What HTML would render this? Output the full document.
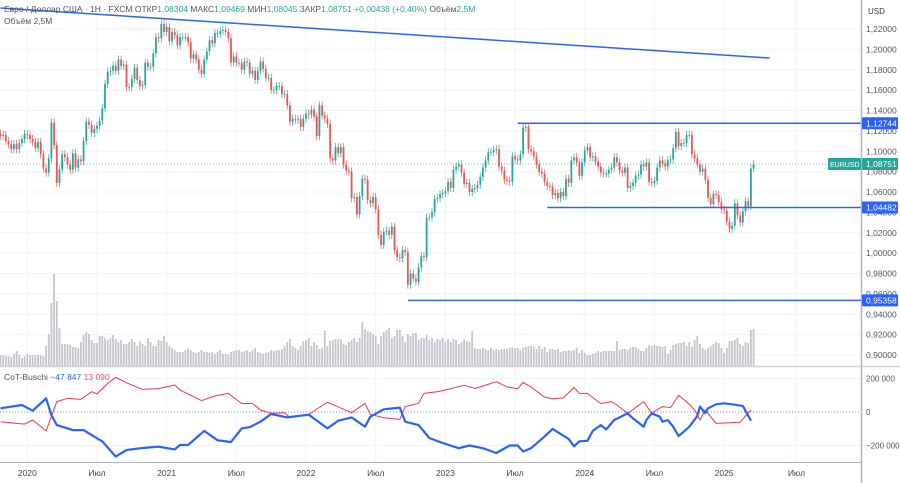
<!DOCTYPE html>
<html><head><meta charset="utf-8"><style>
html,body{margin:0;padding:0;background:#fff;}
svg{display:block;font-family:"Liberation Sans",sans-serif;}
</style></head><body>
<svg id="chart" width="900" height="483" viewBox="0 0 900 483">
<rect x="0" y="0" width="900" height="483" fill="#fff"/>
<g id="grid"></g>
<g id="vol"></g>
<g id="candles"></g>
<g id="draw"></g>
<g id="cot"></g>
<g id="axis"></g>
<text x="4" y="12" font-size="8.5" fill="#555">Евро / Доллар США · 1Н · FXCM  ОТКР<tspan fill="#26a69a">1,08304</tspan>  МАКС<tspan fill="#26a69a">1,09469</tspan>  МИН<tspan fill="#26a69a">1,08045</tspan>  ЗАКР<tspan fill="#26a69a">1,08751</tspan>  <tspan fill="#26a69a">+0,00438 (+0,40%)</tspan>  Объём<tspan fill="#26a69a">2,5M</tspan></text>
<text x="4" y="24" font-size="8.5" fill="#555">Объём  2,5M</text>
<text x="4" y="380" font-size="8.5" fill="#555">CoT-Buschi  <tspan fill="#2962ff">−47 847</tspan>  <tspan fill="#ef5350">13 090</tspan></text>
</svg>
<script>
const closes=[1.115,1.116,1.110,1.107,1.102,1.107,1.102,1.108,1.112,1.117,
1.116,1.112,1.109,1.103,1.109,1.097,1.083,1.079,1.093,1.128,1.106,1.069,1.082,
1.097,1.094,1.087,1.082,1.098,1.084,1.092,1.090,1.110,1.129,1.126,1.118,1.122,
1.125,1.130,1.142,1.166,1.178,1.179,1.184,1.179,1.190,1.184,1.185,1.163,1.163,
1.171,1.182,1.170,1.164,1.165,1.187,1.183,1.183,1.196,1.212,1.211,1.225,1.217,
1.222,1.208,1.217,1.214,1.204,1.212,1.212,1.212,1.207,1.191,1.195,1.190,1.180,
1.176,1.190,1.198,1.209,1.206,1.216,1.215,1.218,1.219,1.217,1.211,1.187,1.193,
1.187,1.187,1.180,1.188,1.187,1.176,1.179,1.170,1.179,1.188,1.181,1.172,1.172,
1.160,1.160,1.164,1.164,1.156,1.156,1.145,1.129,1.132,1.131,1.132,1.124,1.132,1.137,
1.136,1.141,1.134,1.115,1.145,1.135,1.132,1.127,1.093,1.091,1.104,1.098,
1.104,1.087,1.081,1.080,1.054,1.055,1.038,1.056,1.073,1.072,1.052,1.049,1.055,
1.043,1.018,1.008,1.021,1.022,1.018,1.026,1.003,0.996,0.995,1.003,1.001,0.969,0.980,
0.975,0.972,0.986,0.997,0.996,1.035,1.035,1.040,1.053,1.054,1.058,1.059,1.061,1.070,
1.064,1.082,1.085,1.087,1.079,1.068,1.069,1.060,1.063,1.064,1.067,1.075,1.084,
1.091,1.099,1.099,1.101,1.102,1.085,1.081,1.072,1.071,1.070,1.095,1.092,1.091,
1.097,1.123,1.124,1.102,1.100,1.095,1.087,1.080,1.078,1.070,1.066,1.065,1.057,
1.059,1.054,1.060,1.056,1.073,1.069,1.091,1.094,1.089,1.076,1.089,1.101,1.104,
1.094,1.095,1.090,1.085,1.079,1.078,1.078,1.082,1.084,1.094,1.089,1.081,1.079,
1.084,1.064,1.066,1.069,1.076,1.077,1.087,1.085,1.089,1.070,1.069,1.071,
1.084,1.091,1.088,1.085,1.091,1.092,1.103,1.119,1.105,1.108,1.108,1.116,1.116,
1.097,1.093,1.087,1.080,1.083,1.072,1.054,1.048,1.058,1.057,1.050,1.043,1.042,
1.031,1.024,1.027,1.049,1.037,1.030,1.041,1.051,1.046,1.083,1.0875];
const volumes=[11,11,10,10,9,12,15,11,8,10,12,11,11,11,11,11,10,20,32,63,92,65,38,22,
22,22,21,19,19,18,24,31,34,32,26,23,23,30,30,28,26,28,31,27,24,26,
22,22,24,27,24,20,25,22,20,28,24,20,20,26,25,30,24,20,18,16,14,14,14,16,18,16,14,13,14,16,
14,14,13,14,12,14,16,12,12,12,14,15,16,16,14,15,16,14,16,18,14,13,12,13,14,16,15,16,16,17,
20,24,27,20,18,16,20,25,26,28,20,24,21,17,18,35,20,25,26,27,27,27,22,21,24,
26,28,24,28,44,37,35,34,32,30,22,30,34,36,38,28,30,36,36,30,24,32,30,33,33,26,28,28,31,26,
28,24,27,26,28,24,27,24,27,26,22,24,27,25,24,35,18,17,17,18,17,16,18,16,17,16,17,17,17,18,19,18,18,16,18,
19,20,20,19,17,20,17,19,14,17,17,16,17,14,15,15,16,15,16,18,
13,16,13,11,11,12,13,15,14,15,15,15,15,15,25,16,17,17,16,18,
19,19,17,15,15,18,21,20,21,20,20,19,20,12,16,21,22,23,23,24,20,24,19,26,30,22,18,
16,18,20,22,24,23,18,13,18,25,25,26,28,22,20,24,23,36,37];
const cotBlueWeeks=[0,8,12,17,19,21,27,31,36,38,43,47,53,59,65,67,70,76,81,86,90,93,97,101,107,115,122,126,131,136,138,143,149,151,156,160,165,171,175,180,185,190,193,195,198,203,206,212,214,216,219,221,224,226,229,231,234,236,240,241,243,246,247,249,251,253,255,257,260,261,263,264,267,270,273,277,280];
const cotBlue=[22,42,8,82,-18,-78,-108,-108,-157,-175,-266,-227,-215,-207,-223,-197,-197,-113,-169,-179,-98,-90,-58,-12,-32,-16,-98,-52,-32,-88,-28,16,26,-58,-78,-155,-185,-216,-200,-216,-245,-200,-200,-236,-216,-147,-101,-161,-205,-175,-172,-113,-78,-104,-48,-32,-8,-38,-88,-48,-8,-28,-58,-48,-88,-143,-117,-88,-24,32,-8,22,46,52,46,36,-52];
const cotRedWeeks=[0,9,12,17,21,25,30,34,36,40,43,47,53,59,65,67,75,80,85,90,94,97,101,106,108,115,118,122,131,136,138,143,149,151,156,158,163,167,173,177,180,185,189,193,195,198,203,206,210,214,216,219,224,228,230,234,240,243,245,247,250,253,256,259,261,263,267,272,276,280];
const cotRed=[-58,-72,-48,-113,62,82,75,121,108,171,207,175,135,140,161,131,68,96,111,51,51,12,-8,-4,-32,-16,18,58,-4,52,-14,-34,-44,32,52,111,121,135,160,141,155,181,150,139,176,150,89,79,84,147,111,111,51,62,42,-8,62,-8,14,32,26,99,62,12,-48,12,-68,-64,-60,12];
const priceTicks=[1.22,1.20,1.18,1.16,1.14,1.12,1.10,1.08,1.06,1.04,1.02,1.00,0.98,0.96,0.94,0.92,0.90];
const timeLabels=["2020","Июл","2021","Июл","2022","Июл","2023","Июл","2024","Июл","2025","Июл"];
const timeWeeks=[10,36,62,88,114,140,166,192,218,244,270,297];
const cotTicks=[200000,0,-200000];
const cotTickLabels=["200 000","0","−200 000"];
const levels=[1.12744,1.04482,0.95358];
const levelStartWeeks=[193,204,152];
const trendWeeks=[0,287];
const trendPrices=[1.2406,1.1915];
const lastPrice=1.08751;

const NS="http://www.w3.org/2000/svg";
const X=w=>w*2.68+0.5;
const Y=p=>29+(1.22-p)/0.02*20.375;
const YC=v=>412-v/200000*33.5;
const YV=v=>366-v;
function mk(tag,attrs,parent){const e=document.createElementNS(NS,tag);for(const k in attrs)e.setAttribute(k,attrs[k]);document.getElementById(parent).appendChild(e);return e;}

priceTicks.forEach(p=>{const l=mk('line',{x1:0,x2:861,y1:Y(p),y2:Y(p),stroke:'#f0f3fa','stroke-width':1},'grid');

});
timeWeeks.forEach(w=>{const l=mk('line',{x1:X(w),x2:X(w),y1:0,y2:462,stroke:'#f0f3fa','stroke-width':1},'grid');

});
cotTicks.forEach(v=>{const l=mk('line',{x1:0,x2:861,y1:YC(v),y2:YC(v),stroke:'#f0f3fa','stroke-width':1},'grid');

});

volumes.forEach((v,i)=>{if(i>=closes.length)return;const r=mk('rect',{x:X(i)-0.9,y:YV(v),width:1.8,height:v,fill:'#c4c6cc'},'vol');

});

closes.forEach((c,i)=>{const o=i>0?closes[i-1]:c+0.002;const up=c>=o;const col=up?'#26a69a':'#ef5350';
const hi=Math.max(o,c)+0.004,lo=Math.min(o,c)-0.004;
const w=mk('line',{x1:X(i),x2:X(i),y1:Y(hi),y2:Y(lo),stroke:col,'stroke-width':0.7},'candles');


const b=mk('rect',{x:X(i)-0.9,y:Y(Math.max(o,c)),width:1.8,height:Math.max(0.8,Math.abs(Y(o)-Y(c))),fill:col},'candles');

});

const dl=mk('line',{x1:0,x2:861,y1:Y(lastPrice),y2:Y(lastPrice),stroke:'#26a69a','stroke-width':1,'stroke-dasharray':'1,2',opacity:0.6},'draw');


const tl=mk('line',{x1:X(trendWeeks[0]),y1:Y(trendPrices[0]),x2:X(trendWeeks[1]),y2:Y(trendPrices[1]),stroke:'#2962ff','stroke-width':1.5},'draw');


levels.forEach((p,k)=>{const l=mk('line',{x1:X(levelStartWeeks[k]),x2:861,y1:Y(p),y2:Y(p),stroke:'#2962ff','stroke-width':1.5},'draw');

});

const s1=mk('line',{x1:0,x2:900,y1:366.5,y2:366.5,stroke:'#d1d4dc','stroke-width':1.5},'axis');


const s2=mk('line',{x1:0,x2:861,y1:462.5,y2:462.5,stroke:'#b2b5be','stroke-width':1},'axis');


const s3=mk('line',{x1:861.5,x2:861.5,y1:0,y2:483,stroke:'#b2b5be','stroke-width':1.5},'axis');



function pathOf(ws,vs){return ws.map((w,i)=>(i?'L':'M')+X(w).toFixed(1)+','+YC(vs[i]*1000).toFixed(1)).join('');}
const zl=mk('line',{x1:0,x2:861,y1:YC(0),y2:YC(0),stroke:'#9598a1','stroke-width':1,'stroke-dasharray':'1,2'},'cot');


const rp=mk('path',{d:pathOf(cotRedWeeks,cotRed),fill:'none',stroke:'#f23645','stroke-width':1,'stroke-linejoin':'round'},'cot');


const bp=mk('path',{d:pathOf(cotBlueWeeks,cotBlue),fill:'none',stroke:'#2962ff','stroke-width':2.2,'stroke-linejoin':'round'},'cot');



const u=mk('text',{x:868,y:14,'font-size':8,fill:'#333'},'axis');u.textContent='USD';


priceTicks.forEach(p=>{const t=mk('text',{x:866,y:Y(p)+3,'font-size':8.5,fill:'#555'},'axis');t.textContent=p.toFixed(5).replace('.',',');

});
cotTicks.forEach((v,i)=>{const t=mk('text',{x:866,y:YC(v)+3,'font-size':8,fill:'#555'},'axis');t.textContent=cotTickLabels[i];

});
timeLabels.forEach((s,i)=>{const t=mk('text',{x:X(timeWeeks[i]),y:476,'font-size':8.5,fill:'#444','text-anchor':'middle'},'axis');t.textContent=s;

});
levels.forEach(p=>{const r=mk('rect',{x:862,y:Y(p)-6,width:36,height:12,fill:'#2962ff',rx:1},'axis');


const t=mk('text',{x:866,y:Y(p)+3,'font-size':8.5,fill:'#fff'},'axis');t.textContent=p.toFixed(5).replace('.',',');

});
const er=mk('rect',{x:828,y:Y(lastPrice)-6,width:33,height:12,fill:'#26a69a',rx:1},'axis');


const et=mk('text',{x:830,y:Y(lastPrice)+3,'font-size':7,fill:'#fff'},'axis');et.textContent='EURUSD';


const lr=mk('rect',{x:862,y:Y(lastPrice)-6,width:36,height:12,fill:'#26a69a',rx:1},'axis');


const lt=mk('text',{x:866,y:Y(lastPrice)+3,'font-size':8.5,fill:'#fff'},'axis');lt.textContent=lastPrice.toFixed(5).replace('.',',');


</script>
</body></html>
